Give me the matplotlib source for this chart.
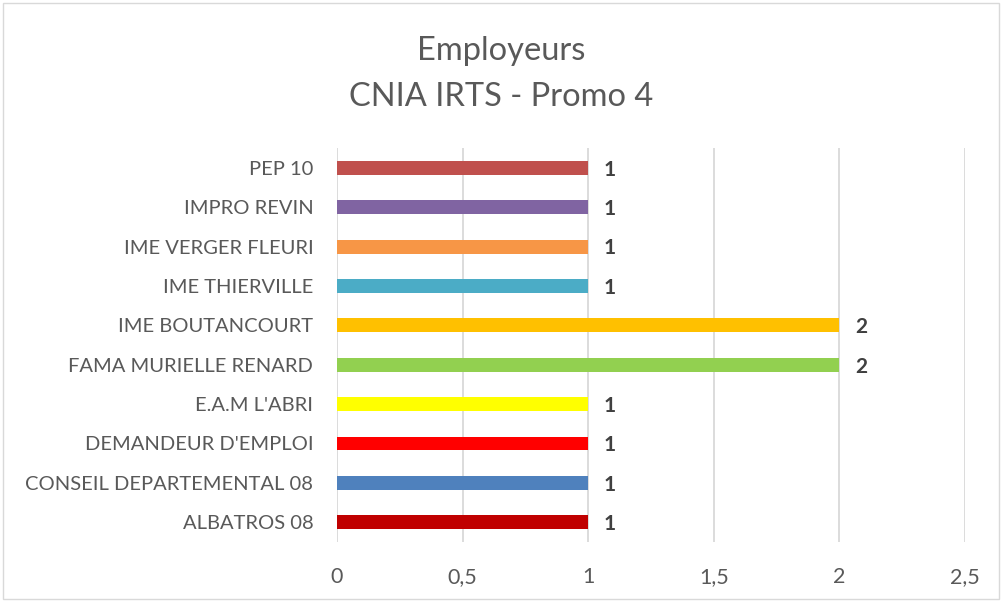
import matplotlib.pyplot as plt
from matplotlib.patches import Rectangle

# data (bottom to top)
employeurs = ['ALBATROS 08', 'CONSEIL DEPARTEMENTAL 08', "DEMANDEUR D'EMPLOI", "E.A.M L'ABRI",
              'FAMA MURIELLE RENARD', 'IME BOUTANCOURT', 'IME THIERVILLE', 'IME VERGER FLEURI',
              'IMPRO REVIN', 'PEP 10']
effectifs = [1, 1, 1, 1, 2, 2, 1, 1, 1, 1]
couleurs = ['#C00000', '#4F81BD', '#FF0000', '#FFFF00', '#92D050', '#FFC000',
            '#4BACC6', '#F79646', '#8064A2', '#C0504D']
ticks = [0, 0.5, 1, 1.5, 2, 2.5]
tick_labels = ['0', '0,5', '1', '1,5', '2', '2,5']

plt.rcParams['font.family'] = ['Lato', 'DejaVu Sans']
txt = '#595959'

fig = plt.figure(figsize=(10.02, 6.01), dpi=100)
fig.patches.append(Rectangle((0.003, 0.004), 0.994, 0.991, transform=fig.transFigure,
                             fill=False, edgecolor='#d9d9d9', lw=1))
ax = fig.add_axes([0.3363, 0.0982, 0.6267, 0.6555])

y = range(len(employeurs))
ax.barh(y, effectifs, height=0.355, color=couleurs, zorder=3)
for i, v in enumerate(effectifs):
    ax.text(v + 0.063, i - 0.05, str(v), va='center', ha='left', fontsize=15,
            fontweight='bold', color='#404040')

ax.set_xlim(0, 2.5)
ax.set_ylim(-0.5, len(employeurs) - 0.5)
ax.set_xticks(ticks)
ax.set_xticklabels(tick_labels, fontsize=15.5, color=txt)
ax.set_yticks(list(y))
ax.set_yticklabels(employeurs, fontsize=14.5, color=txt)
ax.tick_params(axis='both', length=0)
ax.tick_params(axis='y', pad=17)
ax.tick_params(axis='x', pad=18)
ax.grid(axis='x', color='#d9d9d9', lw=1.3, zorder=0)
for s in ax.spines.values():
    s.set_visible(False)

fig.text(0.5, 0.915, 'Employeurs', ha='center', va='center', fontsize=23.5, color=txt)
fig.text(0.5, 0.838, 'CNIA IRTS - Promo 4', ha='center', va='center', fontsize=23.5, color=txt)

plt.savefig('out.png', dpi=100)
